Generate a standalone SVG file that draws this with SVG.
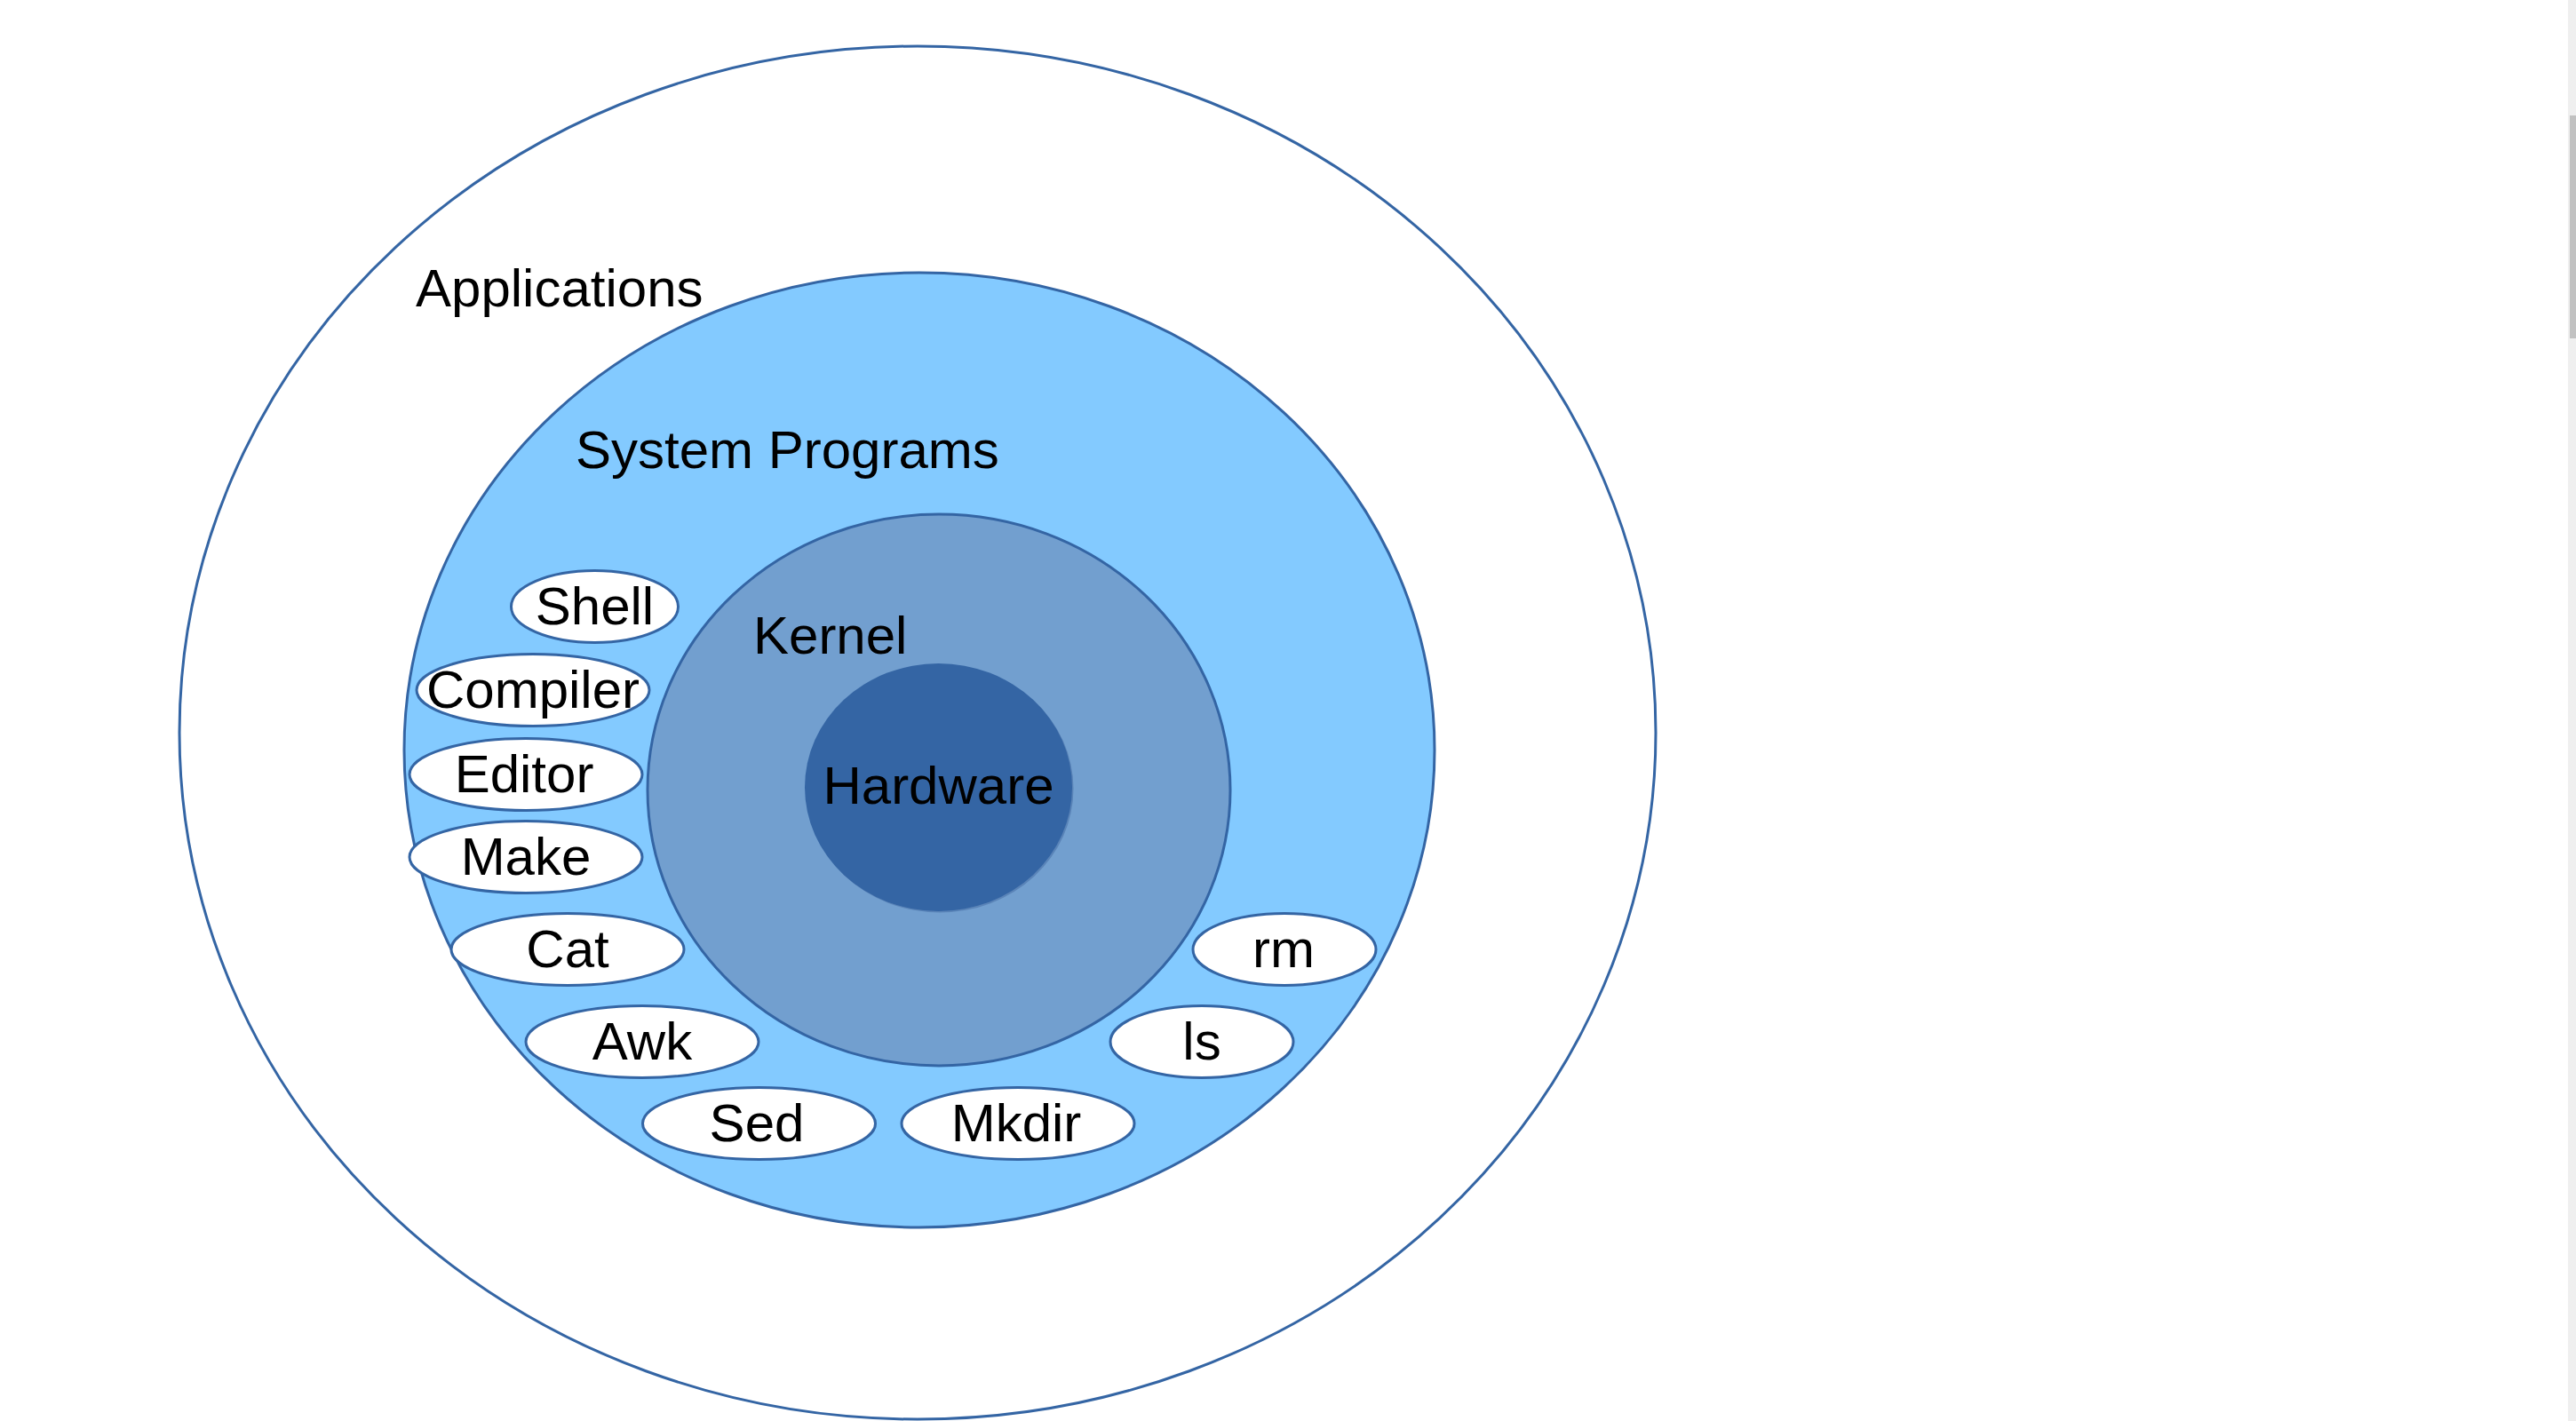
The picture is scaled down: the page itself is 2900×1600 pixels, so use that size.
<svg xmlns="http://www.w3.org/2000/svg" width="2900" height="1600" viewBox="0 0 2900 1600">
<style>
.lbl{font-family:"Liberation Sans",Arial,sans-serif;font-size:60px;fill:#000}
.c{text-anchor:middle}
.ring{stroke:#3465a4;stroke-width:3}
.pill{fill:#fff;stroke:#3465a4;stroke-width:3}
</style>
<rect width="2900" height="1600" fill="#fff"/>
<g id="applications">
<ellipse class="ring" cx="1033" cy="825" rx="831" ry="773" fill="#fff"/>
<text class="lbl" x="468" y="345">Applications</text>
</g>
<g id="system-programs">
<ellipse class="ring" cx="1035" cy="844.5" rx="580" ry="537.5" fill="#83caff"/>
<text class="lbl" x="648" y="527">System Programs</text>
</g>
<g id="kernel">
<ellipse class="ring" cx="1057" cy="889.5" rx="328" ry="310.5" fill="#729fcf"/>
<text class="lbl" x="848" y="736">Kernel</text>
</g>
<g id="hardware">
<ellipse cx="1058" cy="888" rx="150.5" ry="139.5" fill="#5a84b8"/>
<ellipse cx="1056.5" cy="886.5" rx="150.5" ry="139.5" fill="#3465a4"/>
<text class="lbl c" x="1056.5" y="905">Hardware</text>
</g>
<g id="shell"><ellipse class="pill" cx="669.5" cy="683" rx="94" ry="40.5"/><text class="lbl c" x="669.5" y="703">Shell</text></g>
<g id="compiler"><ellipse class="pill" cx="600" cy="777" rx="131" ry="40.5"/><text class="lbl c" x="600" y="797">Compiler</text></g>
<g id="editor"><ellipse class="pill" cx="592" cy="872" rx="131" ry="40.5"/><text class="lbl c" x="590" y="892">Editor</text></g>
<g id="make"><ellipse class="pill" cx="592" cy="965" rx="131" ry="40.5"/><text class="lbl c" x="592" y="985">Make</text></g>
<g id="cat"><ellipse class="pill" cx="639" cy="1069" rx="131" ry="40.5"/><text class="lbl c" x="639" y="1089">Cat</text></g>
<g id="awk"><ellipse class="pill" cx="723" cy="1173" rx="131" ry="40.5"/><text class="lbl c" x="723" y="1193">Awk</text></g>
<g id="sed"><ellipse class="pill" cx="854.5" cy="1265" rx="131" ry="40.5"/><text class="lbl c" x="852" y="1285">Sed</text></g>
<g id="mkdir"><ellipse class="pill" cx="1146" cy="1265" rx="131" ry="40.5"/><text class="lbl c" x="1144" y="1285">Mkdir</text></g>
<g id="ls"><ellipse class="pill" cx="1353" cy="1173" rx="103" ry="40.5"/><text class="lbl c" x="1353" y="1193">ls</text></g>
<g id="rm"><ellipse class="pill" cx="1446" cy="1069" rx="103" ry="40.5"/><text class="lbl c" x="1445" y="1089">rm</text></g>
<g id="connectors"></g>
<rect x="2891" y="0" width="9" height="1600" fill="#efefef"/>
<rect x="2893" y="130" width="7" height="251" fill="#c1c1c1"/>
</svg>
